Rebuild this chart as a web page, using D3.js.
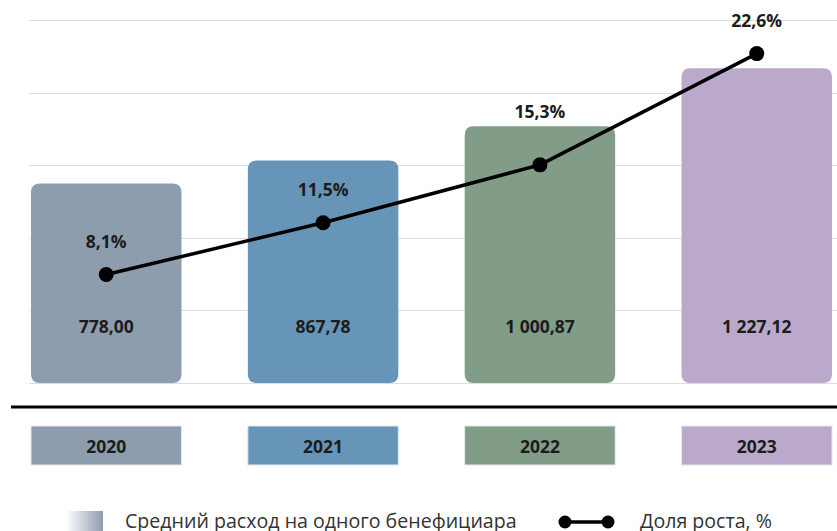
<!DOCTYPE html>
<html lang="ru">
<head>
<meta charset="utf-8">
<title>Средний расход на одного бенефициара</title>
<style>
  html, body { margin: 0; padding: 0; background: #fff; }
  #chart { width: 837px; height: 531px; overflow: hidden; }
  text { font-family: "Open Sans", "DejaVu Sans", sans-serif; }
</style>
</head>
<body>
<div id="chart"></div>
<script src="https://d3js.org/d3.v7.min.js"></script>
<script>
  // data
  var years = ['2020', '2021', '2022', '2023'];
  var spending = [778.00, 867.78, 1000.87, 1227.12];
  var growth = [8.1, 11.5, 15.3, 22.6];
  var colors = ['#8e9dae', '#6795b8', '#819c87', '#bba9cb'];
  var legendLabels = ['Средний расход на одного бенефициара', 'Доля роста, %'];

  var width = 837, height = 531;
  var baseY = 383, topY = 20;

  var fmtValue = function(v) {
    var parts = v.toFixed(2).split('.');
    var intPart = parts[0].replace(/\B(?=(\d{3})+(?!\d))/g, ' ');
    return intPart + ',' + parts[1];
  };
  var fmtPct = function(v) { return v.toFixed(1).replace('.', ',') + '%'; };

  var svg = d3.select('#chart').append('svg')
    .attr('width', width)
    .attr('height', height);

  var x = d3.scaleBand()
    .domain(years)
    .range([31, 832])
    .paddingInner(0.306)
    .paddingOuter(0);

  var y = d3.scaleLinear()
    .domain([0, 1415])
    .range([baseY, topY]);

  var yPct = d3.scaleLinear()
    .domain([0, 25])
    .range([398, 17]);

  // grid, five equal steps
  svg.append('g').selectAll('line')
    .data(d3.range(6).map(function(i) { return i * 283; }))
    .enter().append('line')
    .attr('x1', 29).attr('x2', width)
    .attr('y1', function(d) { return Math.round(y(d)) + 0.5; })
    .attr('y2', function(d) { return Math.round(y(d)) + 0.5; })
    .attr('stroke', '#dedede')
    .attr('stroke-width', 1.2);

  // bars with rounded corners
  var r = 9;
  svg.append('g').selectAll('path')
    .data(spending)
    .enter().append('path')
    .attr('fill', function(d, i) { return colors[i]; })
    .attr('d', function(d, i) {
      var x0 = x(years[i]), w = x.bandwidth(), yt = y(d), yb = baseY;
      return 'M' + x0 + ',' + yb +
        'V' + (yt + r) +
        'Q' + x0 + ',' + yt + ' ' + (x0 + r) + ',' + yt +
        'H' + (x0 + w - r) +
        'Q' + (x0 + w) + ',' + yt + ' ' + (x0 + w) + ',' + (yt + r) +
        'V' + (yb - r) +
        'Q' + (x0 + w) + ',' + yb + ' ' + (x0 + w - r) + ',' + yb +
        'H' + (x0 + r) +
        'Q' + x0 + ',' + yb + ' ' + x0 + ',' + (yb - r) + 'Z';
    });

  // value labels inside bars
  svg.append('g').selectAll('text')
    .data(spending)
    .enter().append('text')
    .attr('x', function(d, i) { return x(years[i]) + x.bandwidth() / 2; })
    .attr('y', baseY - 57)
    .attr('text-anchor', 'middle')
    .attr('dominant-baseline', 'central')
    .attr('font-size', 17.5)
    .attr('font-weight', 700)
    .attr('fill', '#1c1c1c')
    .text(function(d) { return fmtValue(d); });

  // growth line
  var line = d3.line()
    .x(function(d, i) { return x(years[i]) + x.bandwidth() / 2; })
    .y(function(d) { return yPct(d); });

  svg.append('path')
    .datum(growth)
    .attr('d', line)
    .attr('fill', 'none')
    .attr('stroke', '#000')
    .attr('stroke-width', 3.5);

  svg.append('g').selectAll('circle')
    .data(growth)
    .enter().append('circle')
    .attr('cx', function(d, i) { return x(years[i]) + x.bandwidth() / 2; })
    .attr('cy', function(d) { return yPct(d); })
    .attr('r', 7.5)
    .attr('fill', '#000');

  // growth labels: above the point, or above the bar when they would hit its top edge
  svg.append('g').selectAll('text')
    .data(growth)
    .enter().append('text')
    .attr('x', function(d, i) { return x(years[i]) + x.bandwidth() / 2; })
    .attr('y', function(d, i) {
      var ly = yPct(d) - 34, barTop = y(spending[i]);
      if (Math.abs(ly - barTop) < 16) ly = barTop - 15;
      return ly;
    })
    .attr('text-anchor', 'middle')
    .attr('dominant-baseline', 'central')
    .attr('font-size', 17.5)
    .attr('font-weight', 700)
    .attr('fill', '#1c1c1c')
    .text(function(d) { return fmtPct(d); });

  // thick axis rule
  svg.append('line')
    .attr('x1', 11).attr('x2', width)
    .attr('y1', 407).attr('y2', 407)
    .attr('stroke', '#000')
    .attr('stroke-width', 3);

  // year boxes
  var yearG = svg.append('g').selectAll('g')
    .data(years)
    .enter().append('g');

  yearG.append('rect')
    .attr('x', function(d) { return x(d); })
    .attr('y', 426)
    .attr('width', x.bandwidth())
    .attr('height', 39)
    .attr('fill', function(d, i) { return colors[i]; })
    .attr('stroke', '#e4e8ee')
    .attr('stroke-width', 1);

  yearG.append('text')
    .attr('x', function(d) { return x(d) + x.bandwidth() / 2; })
    .attr('y', 445.5)
    .attr('text-anchor', 'middle')
    .attr('dominant-baseline', 'central')
    .attr('font-size', 17.5)
    .attr('font-weight', 700)
    .attr('fill', '#1c1c1c')
    .text(function(d) { return d; });

  // legend
  var grad = svg.append('defs').append('linearGradient')
    .attr('id', 'legendGrad')
    .attr('x1', '0%').attr('x2', '100%').attr('y1', '0%').attr('y2', '0%');
  grad.append('stop').attr('offset', '0%').attr('stop-color', '#ffffff');
  grad.append('stop').attr('offset', '100%').attr('stop-color', colors[0]);

  svg.append('rect')
    .attr('x', 66).attr('y', 511)
    .attr('width', 37).attr('height', 37)
    .attr('fill', 'url(#legendGrad)');

  svg.append('text')
    .attr('x', 125).attr('y', 528)
    .attr('font-size', 19.6)
    .attr('fill', '#333')
    .text(legendLabels[0]);

  svg.append('line')
    .attr('x1', 565).attr('x2', 608)
    .attr('y1', 522).attr('y2', 522)
    .attr('stroke', '#000')
    .attr('stroke-width', 3.5);

  svg.append('g').selectAll('circle')
    .data([565, 608])
    .enter().append('circle')
    .attr('cx', function(d) { return d; })
    .attr('cy', 522)
    .attr('r', 6.5)
    .attr('fill', '#000');

  svg.append('text')
    .attr('x', 640).attr('y', 528)
    .attr('font-size', 19.6)
    .attr('fill', '#333')
    .text(legendLabels[1]);
</script>
</body>
</html>
